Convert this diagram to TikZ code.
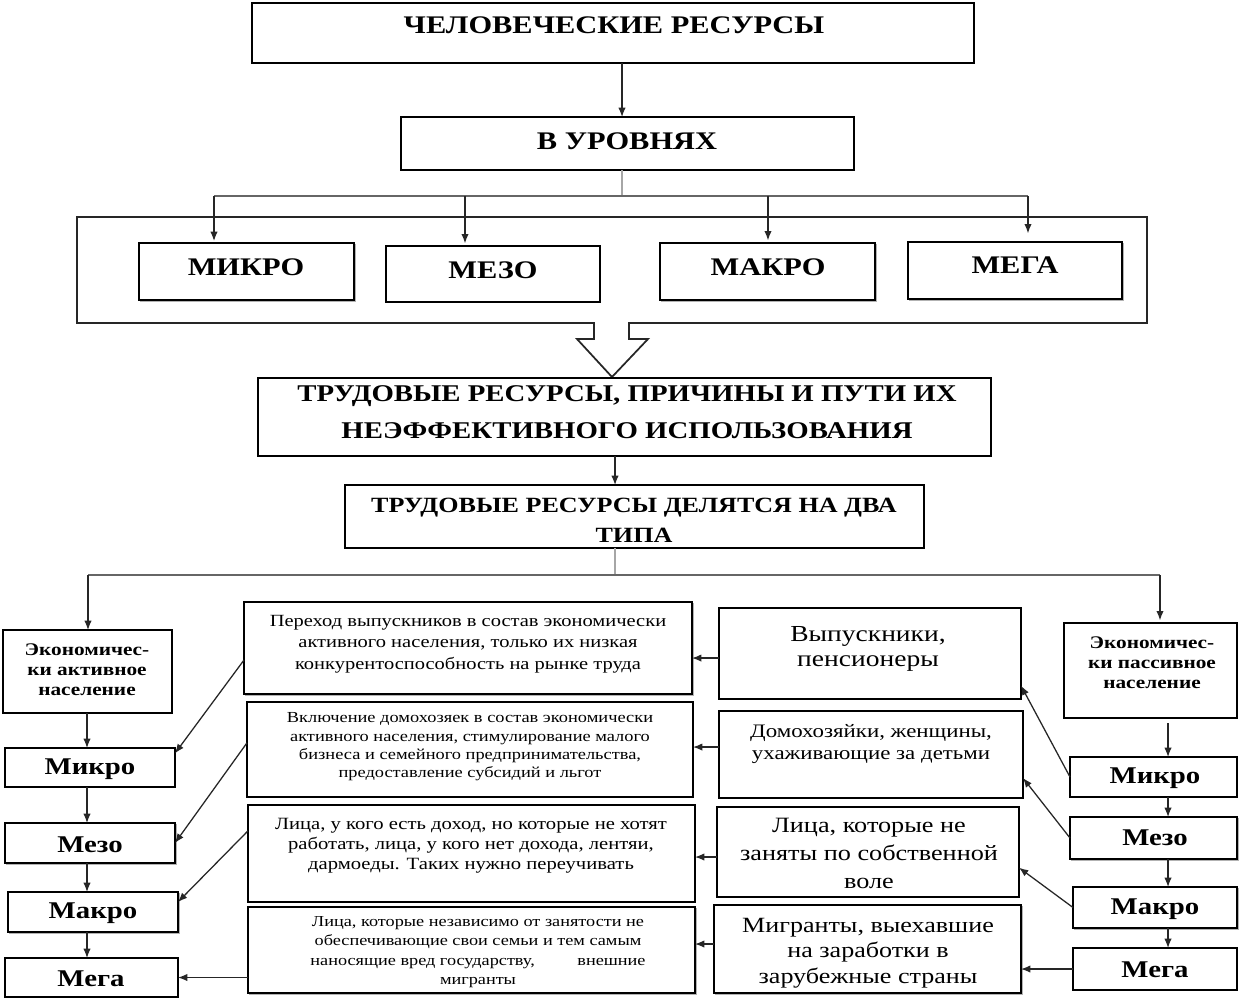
\documentclass[tikz,border=0pt]{standalone}
\usepackage{fontspec}
\setmainfont{Liberation Serif}[FakeStretch=1.2]
\usetikzlibrary{arrows.meta,fit}
\newcommand\fs[2]{\fontsize{#1}{#2}\selectfont}
\newcommand\boxat[6][]{\node[box,#1,fit={(#3,#4) (#5,#6)}] (#2) {};}
\tikzset{
  box/.style={draw=black, line width=0.9pt, fill=white, inner sep=0pt, outer sep=0pt},
  shadowed/.style={preaction={draw=black!30, line width=1.2pt, transform canvas={shift={(1.2pt,-1.2pt)}}}},
  txt/.style={align=center, inner sep=0pt},
  arr/.style={draw=black!85, line width=0.95pt, -{Latex[length=7pt,width=5.5pt]}},
  gline/.style={draw=black!35, line width=0.8pt},
  busline/.style={draw=black!60, line width=1pt},
  outerline/.style={draw=black!85, line width=1.3pt, line join=miter},
}
\begin{document}
\begin{tikzpicture}[x=0.75pt,y=-0.75pt]
\useasboundingbox (0,0) rectangle (1239,1003);
\fill[white] (0,0) rectangle (1239,1003);

% outer container with hollow arrow
\draw[outerline] (594,323) -- (77,323) -- (77,217) -- (1147,217) -- (1147,323) -- (629,323)
  -- (629,339) -- (648,339) -- (612,377) -- (577,339) -- (594,339) -- cycle;

% boxes
\boxat{title}{252}{3}{974}{63}
\boxat{lvl}{401}{117}{854}{170}
\boxat[shadowed]{mikro}{139}{243}{354}{300}
\boxat{mezo}{386}{246}{600}{302}
\boxat[shadowed]{makro}{660}{243}{875}{300}
\boxat[shadowed]{mega}{908}{242}{1122}{299}
\boxat{trud}{258}{378}{991}{456}
\boxat{types}{345}{485}{924}{548}
\boxat{econA}{3}{630}{172}{713}
\boxat{econP}{1064}{623}{1237}{718}
\boxat{LMik}{5}{748}{175}{787}
\boxat[shadowed]{LMez}{5}{823}{175}{863}
\boxat[shadowed]{LMak}{8}{892}{178}{932}
\boxat{LMeg}{5}{958}{178}{997}
\boxat{RMik}{1070}{757}{1237}{797}
\boxat[shadowed]{RMez}{1070}{817}{1237}{859}
\boxat[shadowed]{RMak}{1073}{887}{1237}{928}
\boxat{RMeg}{1073}{948}{1237}{990}
\boxat[shadowed]{A1}{244}{602}{692}{694}
\boxat{A2}{247}{702}{693}{797}
\boxat{A3}{248}{805}{695}{902}
\boxat[shadowed]{A4}{248}{907}{695}{993}
\boxat{B1}{719}{608}{1021}{699}
\boxat{B2}{719}{711}{1023}{798}
\boxat{B3}{717}{807}{1019}{897}
\boxat[shadowed]{B4}{714}{905}{1021}{993}

% texts
\node[txt,font=\bfseries\fs{19}{23}] (titleT) at (614,25) {ЧЕЛОВЕЧЕСКИЕ РЕСУРСЫ};
\node[txt,font=\bfseries\fs{19}{23}] (lvlT) at (627,141) {В УРОВНЯХ};
\node[txt,font=\bfseries\fs{19}{23}] (mikroT) at (246,267) {МИКРО};
\node[txt,font=\bfseries\fs{19}{23}] (mezoT) at (493,270) {МЕЗО};
\node[txt,font=\bfseries\fs{19}{23}] (makroT) at (768,267) {МАКРО};
\node[txt,font=\bfseries\fs{19}{23}] (megaT) at (1015,265) {МЕГА};
\node[txt,font=\bfseries\fs{18}{27.75}] (trudT) at (627,412) {ТРУДОВЫЕ РЕСУРСЫ, ПРИЧИНЫ И ПУТИ ИХ\\НЕЭФФЕКТИВНОГО ИСПОЛЬЗОВАНИЯ};
\node[txt,font=\bfseries\fs{16.3}{22.5}] (typesT) at (634,520) {ТРУДОВЫЕ РЕСУРСЫ ДЕЛЯТСЯ НА ДВА\\ТИПА};
\node[txt,font=\bfseries\fs{13.3}{15}] (econAT) at (87,670) {Экономичес-\\ки активное\\население};
\node[txt,font=\bfseries\fs{13.3}{15}] (econPT) at (1152,663) {Экономичес-\\ки пассивное\\население};
\node[txt,font=\bfseries\fs{18}{20}] (LMikT) at (90,769) {Микро};
\node[txt,font=\bfseries\fs{18}{20}] (LMezT) at (90,845) {Мезо};
\node[txt,font=\bfseries\fs{18}{20}] (LMakT) at (93,913) {Макро};
\node[txt,font=\bfseries\fs{18}{20}] (LMegT) at (91,979) {Мега};
\node[txt,font=\bfseries\fs{18}{20}] (RMikT) at (1155,778) {Микро};
\node[txt,font=\bfseries\fs{18}{20}] (RMezT) at (1155,838) {Мезо};
\node[txt,font=\bfseries\fs{18}{20}] (RMakT) at (1155,909) {Макро};
\node[txt,font=\bfseries\fs{18}{20}] (RMegT) at (1155,970) {Мега};
\node[txt,font=\fs{12.8}{16}] (A1T) at (468,644) {Переход выпускников в состав экономически\\активного населения, только их низкая\\конкурентоспособность на рынке труда};
\node[txt,font=\fs{11.5}{13.8}] (A2T) at (470,747) {Включение домохозяек в состав экономически\\активного населения, стимулирование малого\\бизнеса и семейного предпринимательства,\\предоставление субсидий и льгот};
\node[txt,font=\fs{12.9}{15}] (A3T) at (471,846) {Лица, у кого есть доход, но которые не хотят\\работать, лица, у кого нет дохода, лентяи,\\дармоеды. Таких нужно переучивать};
\node[txt,font=\fs{11.4}{14.5}] (A4T) at (478,952) {Лица, которые независимо от занятости не\\обеспечивающие свои семьи и тем самым\\наносящие вред государству,\hspace{32pt}внешние\\мигранты};
\node[txt,font=\fs{17.2}{19}] (B1T) at (868,649) {Выпускники,\\пенсионеры};
\node[txt,font=\fs{14.3}{16.5}] (B2T) at (871,744) {Домохозяйки, женщины,\\ухаживающие за детьми};
\node[txt,font=\fs{16.4}{21}] (B3T) at (869,853) {Лица, которые не\\заняты по собственной\\воле};
\node[txt,font=\fs{16.3}{19}] (B4T) at (868,953) {Мигранты, выехавшие\\на заработки в\\зарубежные страны};

% coordinates for buses
\coordinate (c0) at (622,0);
\coordinate (busT) at (622,196);
\coordinate (bus1) at (214,196);
\coordinate (bus2) at (465,196);
\coordinate (bus3) at (768,196);
\coordinate (bus4) at (1028,196);
\coordinate (c2) at (615,0);
\coordinate (busB) at (615,575);
\coordinate (busL) at (88,575);
\coordinate (busR) at (1160,575);
\coordinate (colL) at (87,0);
\coordinate (colR) at (1168,0);

% connectors top
\draw[arr] (title.south -| c0) -- (lvl.north -| c0);
\draw[gline] (lvl.south -| busT) -- (busT);
\draw[busline] (bus1) -- (bus4);
\draw[arr, shorten >=1.5pt] (bus1) -- (mikro.north -| bus1);
\draw[arr, shorten >=2pt] (bus2) -- (mezo.north -| bus2);
\draw[arr, shorten >=2pt] (bus3) -- (makro.north -| bus3);
\draw[arr, shorten >=6.5pt] (bus4) -- (mega.north -| bus4);

\draw[arr] (trud.south -| c2) -- (types.north -| c2);
\draw[gline] (types.south -| busB) -- (busB);
\draw[busline] (busL) -- (busR);
\draw[arr] (busL) -- (econA.north -| busL);
\draw[arr, shorten >=2pt] (busR) -- (econP.north -| busR);

% left column
\draw[arr] (econA.south -| colL) -- (LMik.north -| colL);
\draw[arr] (LMik.south -| colL) -- (LMez.north -| colL);
\draw[arr] (LMez.south -| colL) -- (LMak.north -| colL);
\draw[arr] (LMak.south -| colL) -- (LMeg.north -| colL);

% right column
\draw[arr, shorten <=4pt] (econP.south -| colR) -- (RMik.north -| colR);
\draw[arr] (RMik.south -| colR) -- (RMez.north -| colR);
\draw[arr] (RMez.south -| colR) -- (RMak.north -| colR);
\draw[arr] (RMak.south -| colR) -- (RMeg.north -| colR);

% B -> A
\draw[arr] ([yshift=-3.4pt]B1.west) -- ([yshift=-3.4pt]B1.west -| A1.east);
\draw[arr] ([yshift=5.6pt]B2.west) -- ([yshift=5.6pt]B2.west -| A2.east);
\draw[arr] ([yshift=-3.75pt]B3.west) -- ([yshift=-3.75pt]B3.west -| A3.east);
\draw[arr] ([yshift=3.75pt]B4.west) -- ([yshift=3.75pt]B4.west -| A4.east);

% right column -> B
\draw[arr] (RMik.west) -- ([yshift=10pt]B1.south east);
\draw[arr] (RMez.west) -- ([yshift=15pt]B2.south east);
\draw[arr] (RMak.west) -- ([yshift=22pt]B3.south east);
\draw[arr] (RMeg.west) -- (RMeg.west -| B4.east);

% A -> left column
\draw[arr] ([yshift=-9pt]A1.west) -- ([yshift=-4pt]LMik.north east);
\draw[arr] ([yshift=5pt]A2.west) -- (LMez.east);
\draw[arr] ([yshift=17pt]A3.west) -- ([yshift=7.5pt]LMak.east);
\draw[arr] (A4.west |- LMeg.east) -- (LMeg.east);
\end{tikzpicture}
\end{document}
